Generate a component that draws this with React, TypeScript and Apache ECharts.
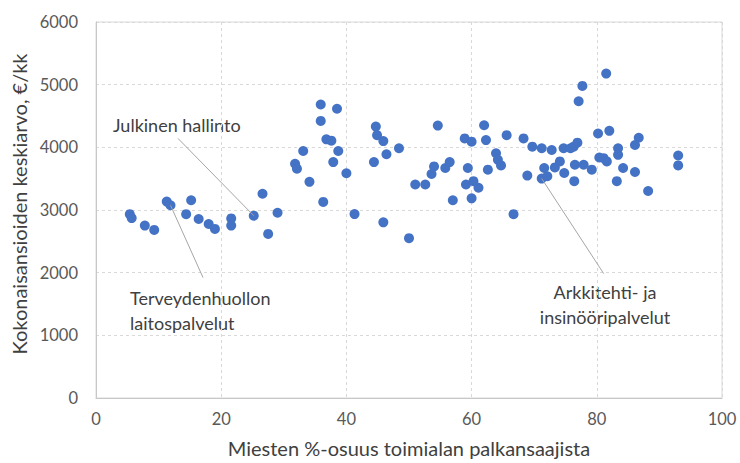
import React, { useEffect, useRef } from "react";
import * as echarts from "echarts";

const menShare = [
  5.4, 5.7, 7.8, 9.3, 11.3, 11.9, 15.2, 14.4, 16.4, 18.0, 19.0, 21.6, 21.6, 25.2, 26.6, 29.0, 27.5,
  34.1, 35.9, 38.5, 35.9, 36.8, 37.6, 38.7, 33.1, 31.8, 32.1, 37.9, 40.0, 36.3, 41.3, 45.9, 50.0,
  44.7, 44.9, 45.9, 48.4, 44.4, 46.4, 54.6, 58.9, 60.0, 59.4, 59.1, 60.3, 61.1, 60.0, 57.0, 51.0,
  52.6, 53.6, 54.0, 55.8, 56.5, 77.1, 77.7, 62.0, 62.3, 65.6, 68.3, 69.7, 71.2, 72.8, 74.7, 75.8,
  76.3, 76.9, 80.2, 82.0, 63.9, 64.2, 64.7, 62.6, 66.7, 68.9, 71.2, 72.1, 71.6, 73.3, 74.1, 74.8,
  76.5, 77.9, 79.2, 76.4, 80.4, 81.1, 81.6, 83.4, 83.4, 83.2, 81.5, 86.7, 86.1, 84.2, 86.1, 88.2,
  93.0, 93.0,
];

const avgEarnings = [
  2934, 2871, 2751, 2682, 3134, 3076, 3155, 2934, 2856, 2777, 2698, 2866, 2751, 2909, 3260, 2956, 2619,
  3449, 4683, 4615, 4421, 4127, 4106, 3942, 3942, 3738, 3659, 3764, 3586, 3129, 2935, 2803, 2551,
  4331, 4194, 4100, 3985, 3764, 3890, 4347, 4142, 4090, 3670, 3407, 3460, 3355, 3186, 3155, 3407,
  3407, 3575, 3696, 3670, 3764, 4736, 4980, 4352, 4116, 4194, 4142, 4011, 3985, 3958, 3985, 3985,
  4011, 4074, 4221, 4263, 3906, 3801, 3712, 3643, 2934, 3549, 3501, 3539, 3670, 3680, 3775, 3591,
  3722, 3722, 3643, 3460, 3838, 3827, 3775, 3985, 3880, 3460, 5177, 4153, 4037, 3670, 3607, 3303,
  3870, 3712,
];

const xTicks = [0, 20, 40, 60, 80, 100];
const yTicks = [0, 1000, 2000, 3000, 4000, 5000, 6000];

// leader lines: label anchor (data coords) -> annotated point (data coords)
const leaderFrom = [
  [13.1, 4142],
  [17.1, 1921],
  [81.1, 1985],
];
const leaderTo = [
  [25.2, 2909],
  [11.9, 3076],
  [71.2, 3501],
];

const labelTexts = ["Julkinen hallinto", "Terveydenhuollon\nlaitospalvelut", "Arkkitehti- ja\ninsinööripalvelut"];

export default function App() {
  const ref = useRef<HTMLDivElement>(null);
  useEffect(() => {
    if (!ref.current) return;
    const chart = echarts.init(ref.current, undefined, { renderer: "svg" });
    const font = "Lato, 'Open Sans', sans-serif";
    const data = menShare.map((x, i) => [x, avgEarnings[i]]);
    chart.setOption({
      animation: false,
      backgroundColor: "#ffffff",
      grid: {
        left: 96,
        right: 18,
        top: 22,
        bottom: 60,
        show: true,
        borderColor: "#d9d9d9",
        borderWidth: 1,
        backgroundColor: "transparent",
      },
      xAxis: {
        type: "value",
        min: xTicks[0],
        max: xTicks[xTicks.length - 1],
        interval: 20,
        name: "Miesten %-osuus toimialan palkansaajista",
        nameLocation: "middle",
        nameGap: 40,
        nameTextStyle: { fontFamily: font, fontSize: 20, color: "#404040" },
        axisLine: { show: true, lineStyle: { color: "#c8c8c8", width: 1 } },
        axisTick: { show: false },
        axisLabel: { fontFamily: font, fontSize: 16.5, color: "#595959", margin: 12 },
        splitLine: { show: true, lineStyle: { color: "#d9d9d9", type: [3, 3], width: 1 } },
      },
      yAxis: {
        type: "value",
        min: yTicks[0],
        max: yTicks[yTicks.length - 1],
        interval: 1000,
        name: "Kokonaisansioiden keskiarvo, €/kk",
        nameLocation: "middle",
        nameGap: 65,
        nameTextStyle: { fontFamily: font, fontSize: 20, color: "#404040", padding: [0, 0, 0, 12] },
        axisLine: { show: true, lineStyle: { color: "#c8c8c8", width: 1 } },
        axisTick: { show: false },
        axisLabel: {
          fontFamily: font,
          fontSize: 16.5,
          color: "#595959",
          margin: 18,
          formatter: (v: number) => String(v),
        },
        splitLine: { show: true, lineStyle: { color: "#d9d9d9", type: [3, 3], width: 1 } },
      },
      series: [
        {
          type: "scatter",
          data,
          symbol: "circle",
          symbolSize: 10,
          itemStyle: { color: "#4472c4", opacity: 1 },
          markLine: {
            silent: true,
            symbol: "none",
            label: { show: false },
            lineStyle: { color: "#a6a6a6", width: 1, type: "solid" },
            data: leaderFrom.map((f, i) => [{ coord: f }, { coord: leaderTo[i] }]),
          },
          z: 3,
        },
      ],
      graphic: [
        {
          type: "text",
          x: 113,
          y: 125,
          style: {
            text: labelTexts[0],
            font: `18px ${font}`,
            fill: "#404040",
            verticalAlign: "middle",
          },
        },
        {
          type: "text",
          x: 130,
          y: 285,
          style: {
            text: labelTexts[1],
            font: `18px ${font}`,
            fill: "#404040",
            lineHeight: 25,
            align: "left",
            verticalAlign: "top",
          },
        },
        {
          type: "text",
          x: 605,
          y: 279,
          style: {
            text: labelTexts[2],
            font: `18px ${font}`,
            fill: "#404040",
            lineHeight: 25,
            align: "center",
            verticalAlign: "top",
          },
        },
      ],
    });
    return () => chart.dispose();
  }, []);
  return (
    <div
      ref={ref}
      style={{ position: "absolute", left: 0, top: 0, width: 740, height: 463 }}
    />
  );
}
